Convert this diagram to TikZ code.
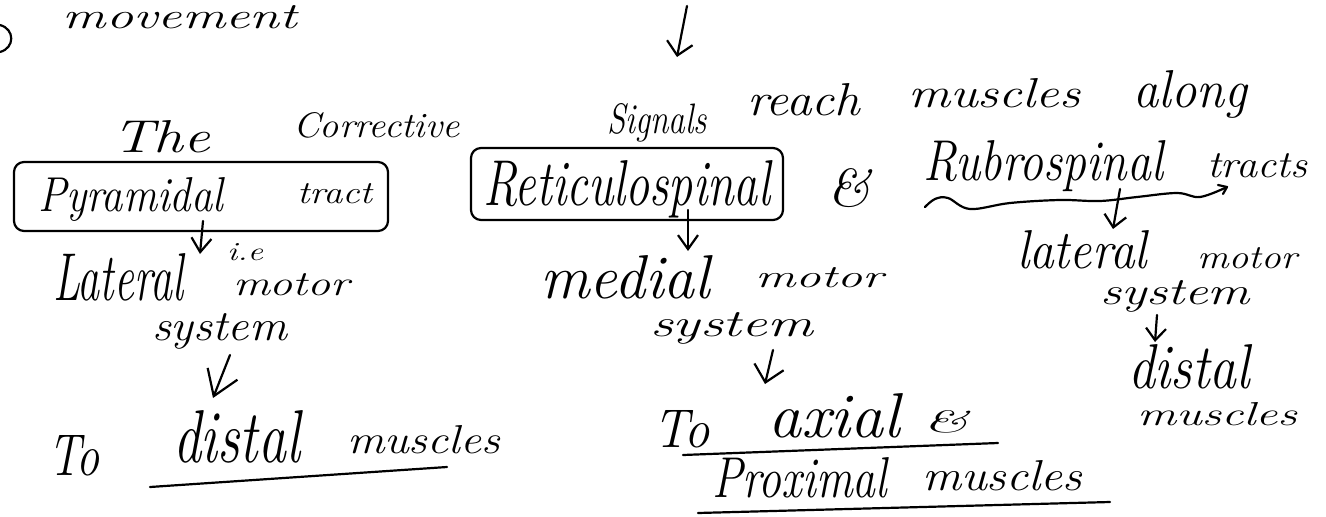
\documentclass[tikz,border=0pt]{standalone}
\usepackage{fontspec}
\usepackage{graphicx}
\usetikzlibrary{arrows.meta,fit}
\newcommand{\hw}[3]{\resizebox{#1pt}{#2pt}{\fontsize{40}{48}\selectfont\itshape #3}}
\tikzset{
  pen/.style={line width=2.2pt, line cap=round, line join=round, draw=black},
  word/.style={inner sep=0pt, outer sep=0pt, anchor=base west},
  frame/.style={pen, rounded corners=10pt, inner sep=0pt},
  head/.style n args={2}{-{Straight Barb[length=#1pt,width=#2pt]}},
}
\begin{document}
\begin{tikzpicture}[x=1pt,y=-1pt]
\fill[white] (0,0) rectangle (1326,517);
\useasboundingbox (0,0) rectangle (1326,517);

% fragment at the left edge
\draw[pen] (0,25) .. controls (15,29) and (15,48) .. (0,52);

% top line of text
\node[word] (movement) at (63,28) {\hw{234}{23}{movement}};
\coordinate (t1) at (687,6);
\coordinate (t2) at (677,57);
\draw[pen, head={13}{26}] (t1) -- (t2);

\node[word] (the) at (112,152) {\hw{98}{32}{The}};
\node[word] (corrective) at (293,137) {\hw{167}{25}{Corrective}};
\node[word] (signals) at (607,133) {\hw{100}{30}{Signals}};
\node[word] (reach) at (747,115) {\hw{113}{32}{reach}};
\node[word] (musclesA) at (908,107) {\hw{172}{29}{muscles}};
\node[word] (along) at (1133,107) {\hw{114}{37}{along}};

% boxes and tract names
\node[frame, fit={(14,162) (388,231)}] (pyrbox) {};
\node[word] (pyramidal) at (38,211) {\hw{185}{34}{Pyramidal}};
\node[word] (tract) at (297,203) {\hw{75}{20}{tract}};

\node[frame, fit={(471,148) (783,220)}] (retbox) {};
\node[word] (reticulo) at (483,205) {\hw{287}{45}{Reticulospinal}};
\node[word] (andA) at (827,206) {\hw{43}{38}{\&}};

\node[word] (rubro) at (923,180) {\hw{240}{40}{Rubrospinal}};
\node[word] (tracts) at (1207,177) {\hw{100}{24}{tracts}};
\draw[pen] plot[smooth, tension=0.6] coordinates {(925,207) (935,199) (948,198) (970,209) (1010,203) (1060,200) (1100,201) (1137,197) (1177,193) (1200,197) (1227,187)};
\draw[pen] (1218,185) -- (1227,187) -- (1223,194);

% left column
\coordinate (p1) at (203,221);
\coordinate (p2) at (200,254);
\draw[pen, head={14}{20}] (p1) -- (p2);
\node[word] (ie) at (227,260) {\hw{36}{17}{i.e}};
\node[word] (lateralA) at (53,300) {\hw{130}{47}{Lateral}};
\node[word] (motorA) at (233,295) {\hw{117}{22}{motor}};
\node[word] (systemA) at (152,340) {\hw{135}{27}{system}};
\coordinate (l1) at (230,355);
\coordinate (l2) at (213,398);
\draw[pen, head={24}{32}] (l1) -- (l2);
\node[word] (toA) at (48,475) {\hw{52}{40}{To}};
\node[word] (distalA) at (173,462) {\hw{127}{52}{distal}};
\node[word] (musclesB) at (347,453) {\hw{153}{28}{muscles}};
\coordinate (u1a) at (150,487);
\coordinate (u1b) at (447,467);
\draw[pen] (u1a) -- (u1b);

% middle column
\coordinate (m1) at (688,210);
\coordinate (m2) at (688,251);
\draw[pen, head={14}{20}] (m1) -- (m2);
\node[word] (medial) at (540,298) {\hw{170}{43}{medial}};
\node[word] (motorB) at (755,287) {\hw{128}{20}{motor}};
\node[word] (systemB) at (650,336) {\hw{163}{24}{system}};
\coordinate (m3) at (773,350);
\coordinate (m4) at (765,384);
\draw[pen, head={16}{30}] (m3) -- (m4);
\node[word] (toB) at (653,447) {\hw{57}{37}{To}};
\node[word] (axial) at (768,437) {\hw{132}{44}{axial}};
\node[word] (andB) at (923,432) {\hw{45}{22}{\&}};
\coordinate (u2a) at (683,455);
\coordinate (u2b) at (998,443);
\draw[pen] (u2a) -- (u2b);
\node[word] (proximal) at (712,497) {\hw{175}{40}{Proximal}};
\node[word] (musclesC) at (922,490) {\hw{160}{30}{muscles}};
\coordinate (u3a) at (698,513);
\coordinate (u3b) at (1110,502);
\draw[pen] (u3a) -- (u3b);

% right column
\coordinate (r1) at (1120,189);
\coordinate (r2) at (1113,229);
\draw[pen, head={12}{22}] (r1) -- (r2);
\node[word] (lateralB) at (1017,268) {\hw{130}{38}{lateral}};
\node[word] (motorC) at (1197,268) {\hw{100}{21}{motor}};
\node[word] (systemC) at (1100,304) {\hw{150}{24}{system}};
\coordinate (r3) at (1157,315);
\coordinate (r4) at (1155,342);
\draw[pen, head={12}{20}] (r3) -- (r4);
\node[word] (distalB) at (1128,388) {\hw{122}{44}{distal}};
\node[word] (musclesD) at (1137,425) {\hw{160}{23}{muscles}};
\end{tikzpicture}
\end{document}
